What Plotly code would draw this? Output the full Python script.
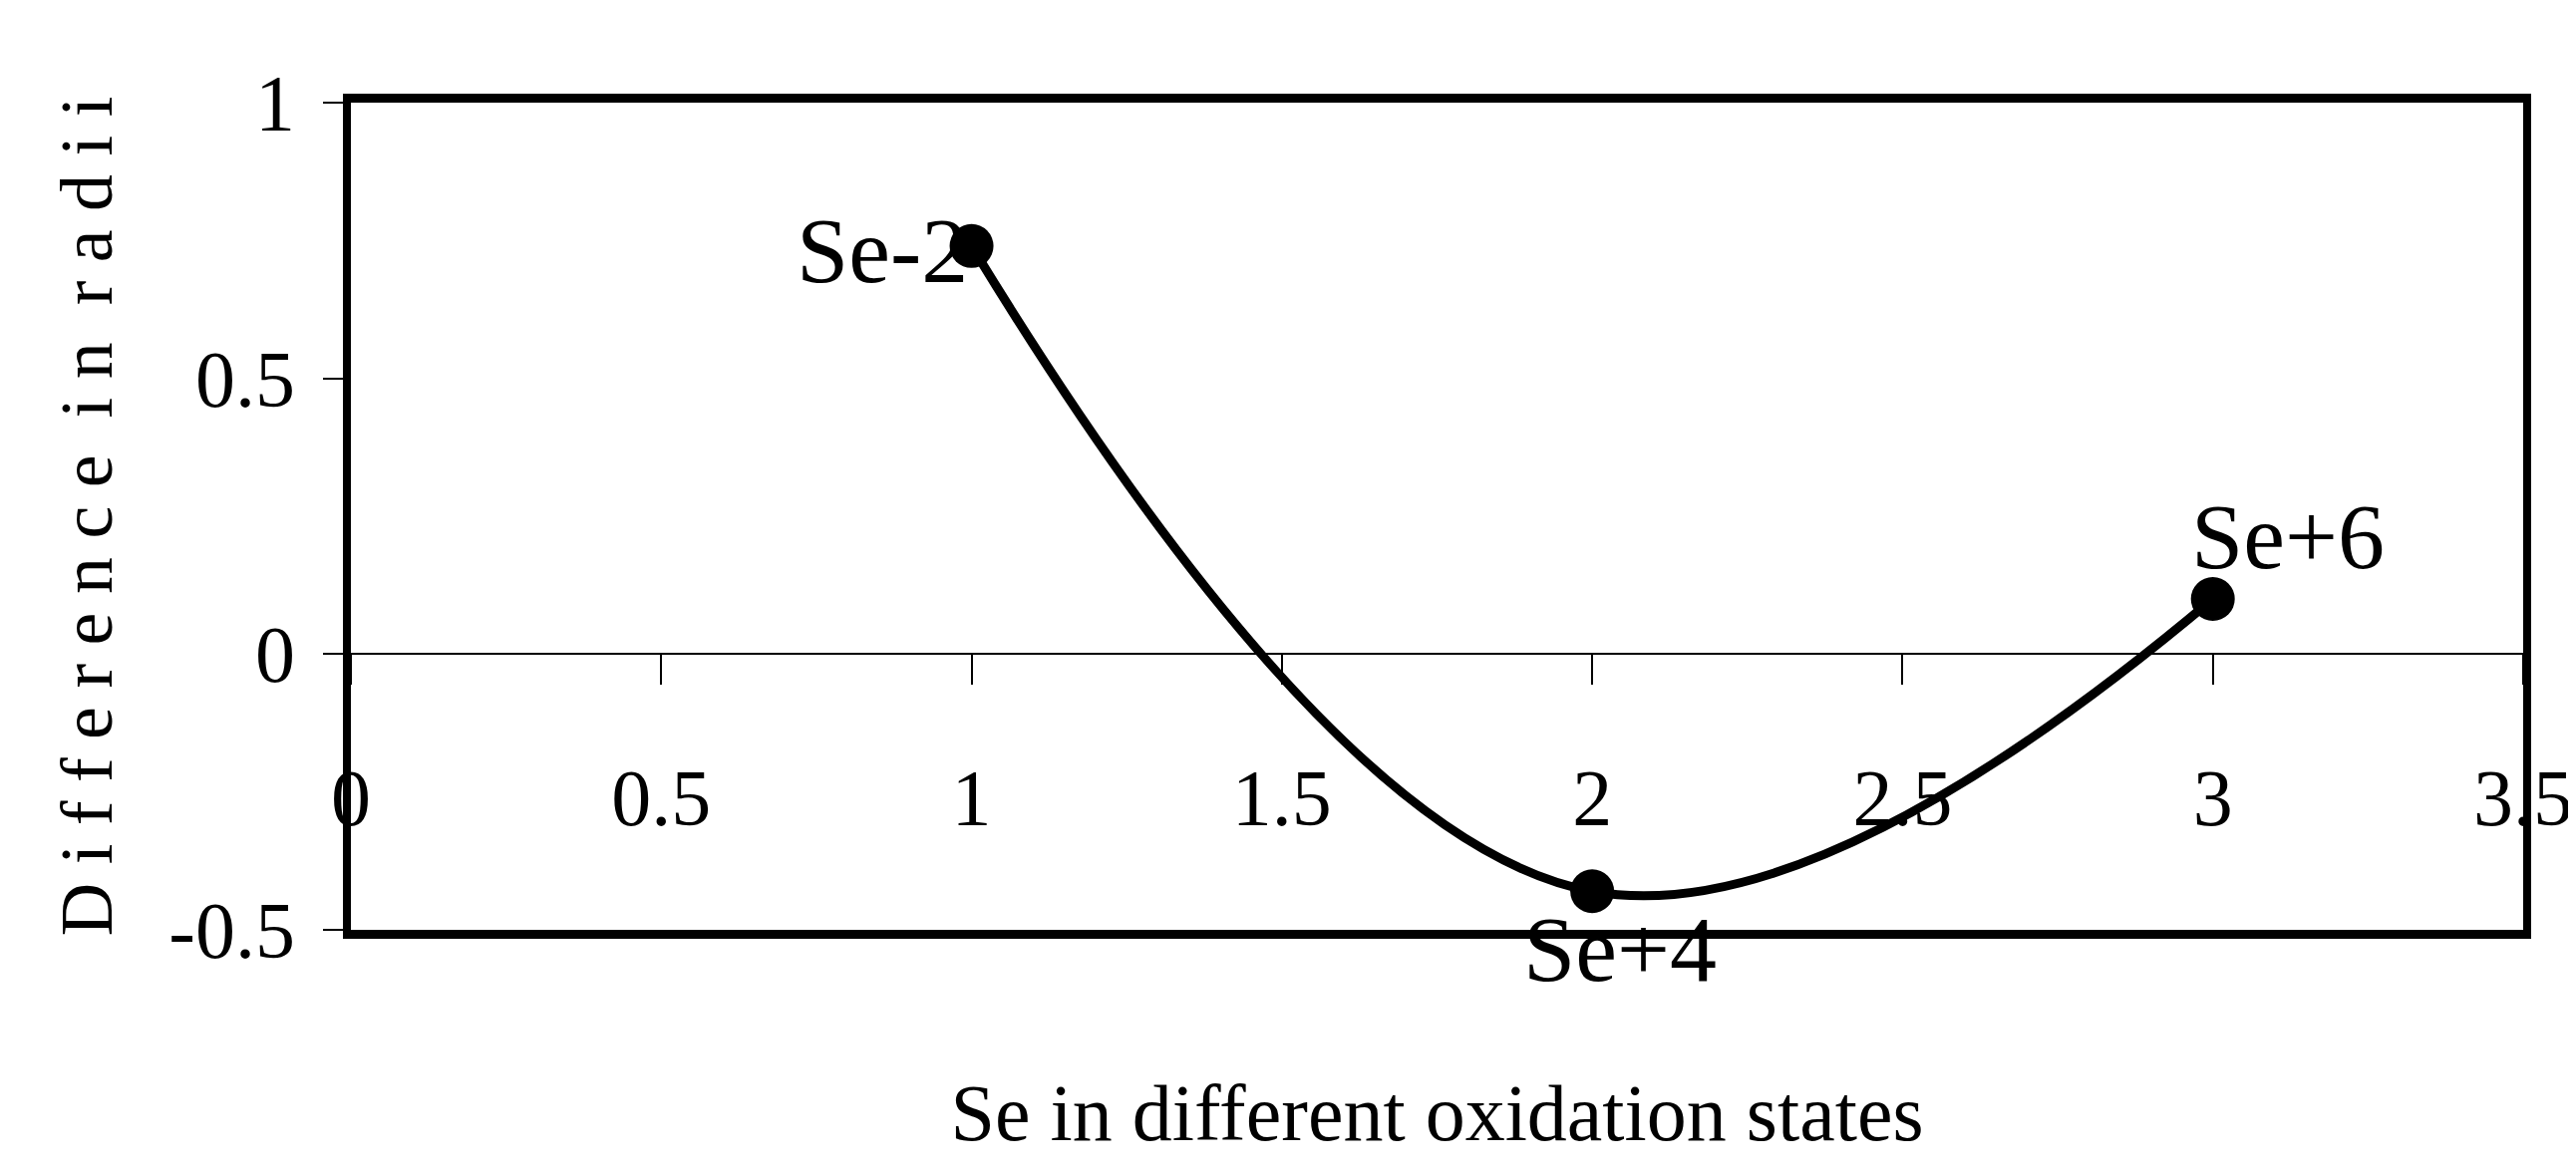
import plotly.graph_objects as go

# Data
state_x = [1, 2, 3]
radius_diff = [0.74, -0.43, 0.10]
state_labels = ["Se-2", "Se+4", "Se+6"]

x_ticks = [0, 0.5, 1, 1.5, 2, 2.5, 3, 3.5]
x_tick_text = ["0", "0.5", "1", "1.5", "2", "2.5", "3", "3.5"]
y_ticks = [-0.5, 0, 0.5, 1]
y_tick_text = ["-0.5", "0", "0.5", "1"]

x_title = "Se in different oxidation states"
y_title = "Difference in radii"

FONT = "Liberation Serif, Times New Roman, serif"
NB = "\u00a0"


def spaced(txt):
    words = txt.split(" ")
    return (NB * 2).join(NB.join(list(w)) for w in words)


fig = go.Figure()

fig.add_trace(go.Scatter(
    x=state_x, y=radius_diff,
    mode="lines+markers",
    line=dict(shape="spline", smoothing=1.15, color="black", width=9),
    marker=dict(size=44, color="black", symbol="circle"),
    showlegend=False,
    hoverinfo="skip",
))

# tick marks + labels hanging off the zero line (secondary x axis)
fig.add_trace(go.Scatter(
    x=[x_ticks[0], x_ticks[-1]], y=[None, None], xaxis="x2", yaxis="y",
    mode="markers", showlegend=False, hoverinfo="skip",
))

# point labels
label_pos = {
    "Se-2": dict(xanchor="right", yanchor="middle", xshift=-2, yshift=-4),
    "Se+4": dict(xanchor="center", yanchor="middle", xshift=28, yshift=-58),
    "Se+6": dict(xanchor="left", yanchor="middle", xshift=-24, yshift=63),
}
for xv, yv, lab in zip(state_x, radius_diff, state_labels):
    fig.add_annotation(
        x=xv, y=yv, xref="x", yref="y", text=lab, showarrow=False,
        font=dict(family=FONT, size=94, color="black"),
        **label_pos[lab],
    )

fig.update_layout(
    width=2584, height=1180,
    margin=dict(l=344, r=61, t=95, b=255, autoexpand=False),
    paper_bgcolor="white", plot_bgcolor="white",
    font=dict(family=FONT, color="black"),
    xaxis=dict(
        range=[x_ticks[0], x_ticks[-1]],
        showline=True, mirror=True, linewidth=9, linecolor="black",
        showgrid=False, zeroline=False, ticks="", showticklabels=False,
        title=dict(text=x_title, font=dict(family=FONT, size=80, color="black"),
                   standoff=150),
        automargin=False,
    ),
    xaxis2=dict(
        overlaying="x", anchor="free", position=1 / 3, side="bottom",
        range=[x_ticks[0], x_ticks[-1]],
        tickmode="array", tickvals=x_ticks, ticktext=x_tick_text,
        ticks="outside", ticklen=30, tickwidth=2, tickcolor="black",
        ticklabelstandoff=45,
        tickfont=dict(family=FONT, size=80, color="black"),
        showline=False, showgrid=False, zeroline=False,
        automargin=False,
    ),
    yaxis=dict(
        range=[y_ticks[0], y_ticks[-1]],
        showline=True, mirror=True, linewidth=8, linecolor="black",
        showgrid=False,
        zeroline=True, zerolinewidth=2, zerolinecolor="black",
        tickmode="array", tickvals=y_ticks, ticktext=y_tick_text,
        ticks="outside", ticklen=20, tickwidth=2, tickcolor="black",
        ticklabelstandoff=12,
        tickfont=dict(family=FONT, size=80, color="black"),
        title=dict(text=spaced(y_title), font=dict(family=FONT, size=74, color="black"),
                   standoff=35),
        automargin=False,
    ),
)

fig.write_html("out.html")
